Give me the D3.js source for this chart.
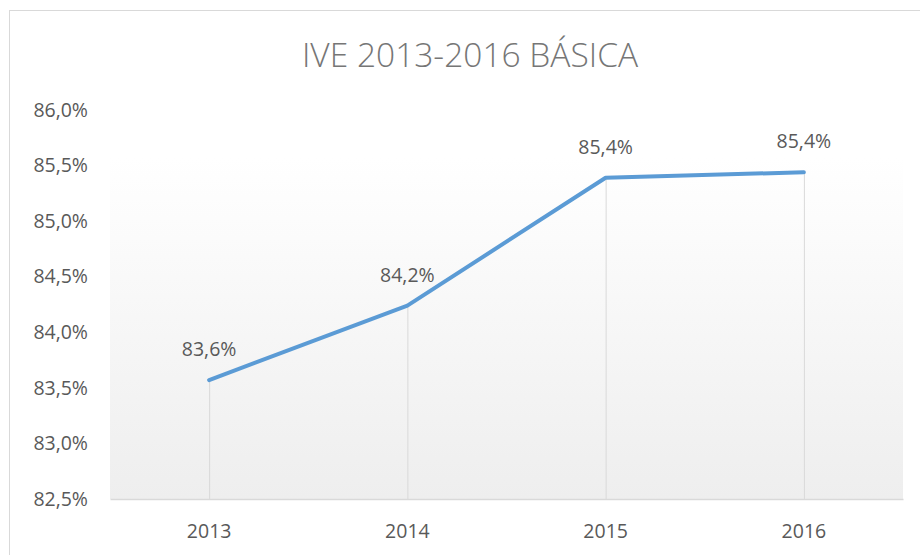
<!DOCTYPE html>
<html>
<head>
<meta charset="utf-8">
<script src="https://cdn.jsdelivr.net/npm/d3@7/dist/d3.min.js"></script>
<style>
html,body{margin:0;padding:0;background:#fff;}
svg{display:block;font-family:"Open Sans",sans-serif;}
</style>
</head>
<body>
<svg id="chart" width="920" height="555"></svg>
<script>
const title = "IVE 2013-2016 BÁSICA";
const years = ["2013","2014","2015","2016"];
const values = [83.57, 84.24, 85.39, 85.44];
const labels = ["83,6%","84,2%","85,4%","85,4%"];
const yTicks = [82.5, 83.0, 83.5, 84.0, 84.5, 85.0, 85.5, 86.0];

const svg = d3.select("#chart");
const W = 920, H = 555;
const m = {left:110, right:17, top:110, bottom:56};

// outer frame
svg.append("rect").attr("x",9.5).attr("y",10.5).attr("width",W+20).attr("height",H+20)
  .attr("fill","#fff").attr("stroke","#d9d9d9").attr("stroke-width",1);

const defs = svg.append("defs");
const grad = defs.append("linearGradient").attr("id","bg").attr("x1",0).attr("y1",0).attr("x2",0).attr("y2",1);
grad.append("stop").attr("offset","0%").attr("stop-color","#ffffff");
grad.append("stop").attr("offset","12%").attr("stop-color","#ffffff");
grad.append("stop").attr("offset","100%").attr("stop-color","#eeeeee");

const x = d3.scaleBand().domain(years).range([m.left, W - m.right]);
const y = d3.scaleLinear().domain([82.5, 86.0]).range([H - m.bottom, m.top]);

svg.append("rect").attr("x",m.left).attr("y",m.top)
  .attr("width",(W-m.right)-m.left).attr("height",(H-m.bottom)-m.top)
  .attr("fill","url(#bg)");

// title
svg.append("text").attr("x",470).attr("y",67).attr("text-anchor","middle")
  .attr("font-size",33.5).attr("font-weight",300).attr("fill","#767676").text(title);

// y axis labels
const yAxis = d3.axisLeft(y).tickValues(yTicks).tickSize(0).tickPadding(0)
  .tickFormat(d => d3.format(".1f")(d).replace(".",",") + "%");
const gy = svg.append("g").attr("transform",`translate(${88},0)`).call(yAxis);
gy.select(".domain").remove();
gy.selectAll("text").attr("font-size",19.5).attr("fill","#595959")
  .attr("font-family","'Open Sans',sans-serif");

// drop lines
svg.append("g").selectAll("line").data(years).join("line")
  .attr("x1",d=>x(d)+x.bandwidth()/2+0.5).attr("x2",d=>x(d)+x.bandwidth()/2+0.5)
  .attr("y1",(d,i)=>y(values[i])).attr("y2",y(82.5))
  .attr("stroke","#d9d9d9").attr("stroke-width",1);

// x axis
const xAxis = d3.axisBottom(x).tickSize(0).tickPadding(0);
const gx = svg.append("g").attr("transform",`translate(0,${y(82.5)})`).call(xAxis);
gx.select(".domain").attr("stroke","#d9d9d9").attr("stroke-width",1.5);
gx.selectAll("text").attr("font-size",19.5).attr("fill","#595959")
  .attr("font-family","'Open Sans',sans-serif").attr("dy","0").attr("y",39);

// line
const line = d3.line().x((d,i)=>x(years[i])+x.bandwidth()/2).y(d=>y(d));
svg.append("path").datum(values).attr("d",line).attr("fill","none")
  .attr("stroke","#5b9bd5").attr("stroke-width",4).attr("stroke-linejoin","round").attr("stroke-linecap","round");

// data labels
svg.append("g").selectAll("text").data(values).join("text")
  .attr("x",(d,i)=>x(years[i])+x.bandwidth()/2)
  .attr("y",d=>y(d)-24)
  .attr("text-anchor","middle").attr("font-size",19.5).attr("fill","#595959")
  .text((d,i)=>labels[i]);
</script>
</body>
</html>
